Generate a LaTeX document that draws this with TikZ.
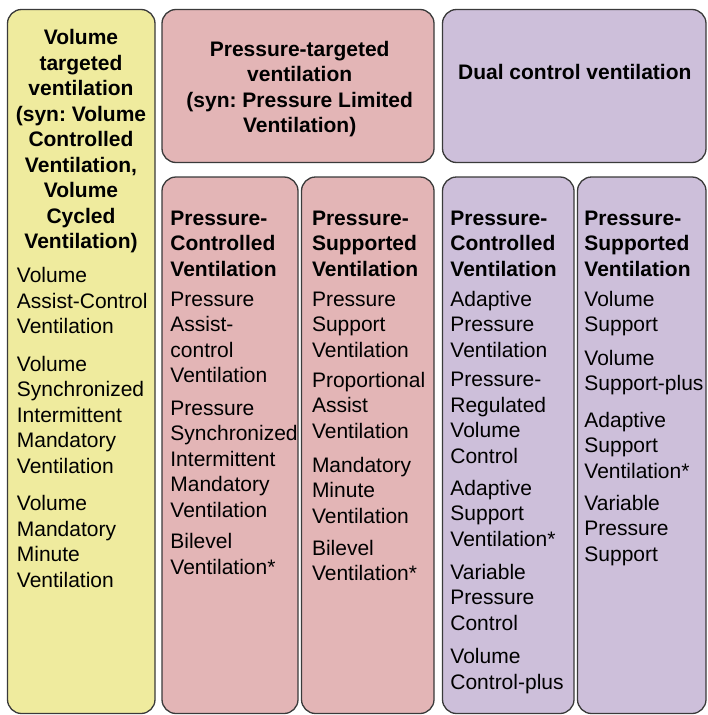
\documentclass[tikz,border=0pt]{standalone}
\usepackage{fontspec}
\setmainfont{Liberation Sans}
\frenchspacing

\definecolor{volfill}{HTML}{EFEB9E}
\definecolor{presfill}{HTML}{E3B5B6}
\definecolor{dualfill}{HTML}{CDBFDA}
\definecolor{edgegray}{HTML}{3A3A3A}

\tikzset{
	panel/.style={draw=edgegray, line width=1.3pt, rounded corners=14pt,
		inner sep=0pt, outer sep=0pt, anchor=north west},
	headtext/.style={font=\bfseries\fontsize{21}{25.5}\selectfont,
		inner sep=0pt, align=center, anchor=north},
	subtext/.style={font=\bfseries\fontsize{21}{25.5}\selectfont,
		inner sep=0pt, align=left, anchor=north west},
	itemtext/.style={font=\fontsize{21}{25.5}\selectfont,
		inner sep=0pt, align=left, anchor=north west},
}

\begin{document}
\begin{tikzpicture}[x=1pt,y=-1pt]
			\useasboundingbox (0,0) rectangle (707,715);

			\node[panel, fill=volfill, minimum width=147.5pt, minimum height=704pt] (volbox) at (7.5,9.5) {};
			\node[panel, fill=presfill, minimum width=272pt, minimum height=153pt] (prtbox) at (162,9.5) {};
			\node[panel, fill=dualfill, minimum width=263.5pt, minimum height=153pt] (dualbox) at (442.5,9.5) {};
			\node[panel, fill=presfill, minimum width=136pt, minimum height=536.5pt] (pcvbox) at (162,177) {};
			\node[panel, fill=presfill, minimum width=132.5pt, minimum height=536.5pt] (psvbox) at (301.5,177) {};
			\node[panel, fill=dualfill, minimum width=131.5pt, minimum height=536.5pt] (dpcvbox) at (442.5,177) {};
			\node[panel, fill=dualfill, minimum width=128.5pt, minimum height=536.5pt] (dpsvbox) at (577.5,177) {};

			\node[headtext] (volhead) at (81,29.3) {Volume\\targeted\\ventilation\\(syn: Volume\\Controlled\\Ventilation,\\Volume\\Cycled\\Ventilation)};
			\node[itemtext] (voltext) at (16.7,267.3) {Volume\\Assist-Control\\Ventilation\\[12pt]
				Volume\\Synchronized\\Intermittent\\Mandatory\\Ventilation\\[12pt]
				Volume\\Mandatory\\Minute\\Ventilation};

			\node[headtext] (prthead) at (299.7,41) {Pressure-targeted\\ventilation\\(syn: Pressure Limited\\Ventilation)};
			\node[headtext] (dualhead) at (574.8,64.3) {Dual control ventilation};

			\node[subtext] (pcvhead) at (170.2,210.5) {Pressure-\\Controlled\\Ventilation};
			\node[itemtext] (pcvtext) at (170.2,291.5) {Pressure\\Assist-\\control\\Ventilation\\[7pt]
				Pressure\\Synchronized\\Intermittent\\Mandatory\\Ventilation\\[6pt]
				Bilevel\\Ventilation*};

			\node[subtext] (psvhead) at (311.8,210.5) {Pressure-\\Supported\\Ventilation};
			\node[itemtext] (psvtext) at (311.8,291.5) {Pressure\\Support\\Ventilation\\[4.5pt]
				Proportional\\Assist\\Ventilation\\[8.5pt]
				Mandatory\\Minute\\Ventilation\\[6.5pt]
				Bilevel\\Ventilation*};

			\node[subtext] (dpcvhead) at (450.2,210.5) {Pressure-\\Controlled\\Ventilation};
			\node[itemtext] (dpcvtext) at (450.2,291) {Adaptive\\Pressure\\Ventilation\\[4pt]
				Pressure-\\Regulated\\Volume\\Control\\[6.2pt]
				Adaptive\\Support\\Ventilation*\\[7.8pt]
				Variable\\Pressure\\Control\\[7.9pt]
				Volume\\Control-plus};

			\node[subtext] (dpsvhead) at (584.2,210.5) {Pressure-\\Supported\\Ventilation};
			\node[itemtext] (dpsvtext) at (584.2,291) {Volume\\Support\\[7.8pt]
				Volume\\Support-plus\\[11.2pt]
				Adaptive\\Support\\Ventilation*\\[6.1pt]
				Variable\\Pressure\\Support};
		\end{tikzpicture}
\end{document}
